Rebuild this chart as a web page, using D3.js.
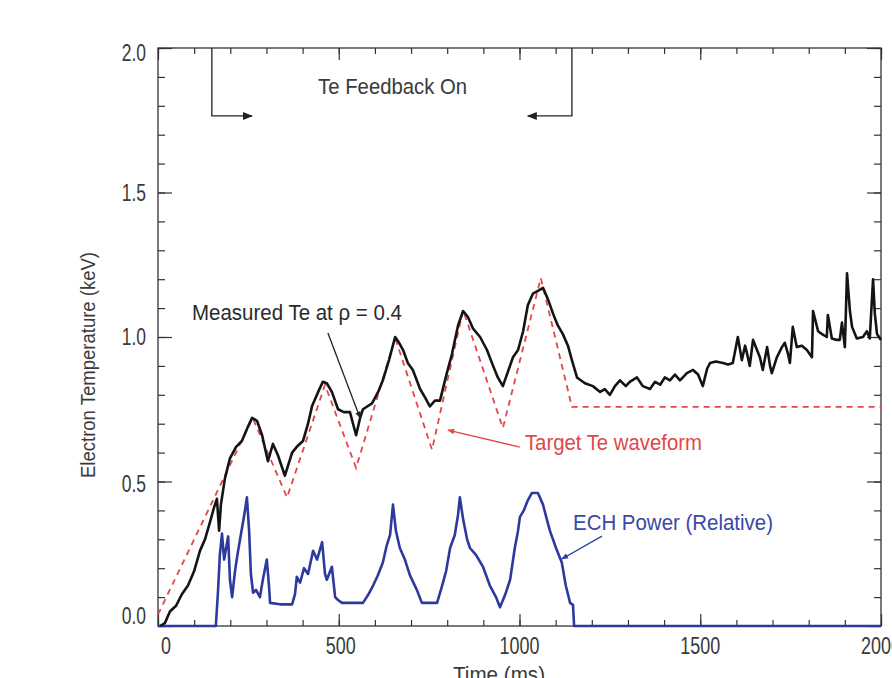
<!DOCTYPE html>
<html><head><meta charset="utf-8">
<script src="https://cdn.jsdelivr.net/npm/d3@7"></script>
<style>body{margin:0;background:#fff}svg{display:block}text{font-family:"Liberation Sans",Arial,sans-serif}</style>
</head><body><svg id="c" width="892" height="678"></svg>
<script>
// ---- data (time in ms, values in keV / relative) ----
const measuredTime = [6,19,33,50,66,83,100,116,130,144,155,163,169,174,185,199,216,232,249,260,274,288,304,318,332,351,371,384,401,415,426,443,456,467,481,498,514,531,548,559,567,592,609,622,639,656,667,678,691,705,725,739,752,766,780,799,813,830,844,857,871,891,910,927,940,954,968,982,996,1010,1023,1037,1051,1065,1079,1093,1106,1120,1134,1145,1159,1181,1203,1223,1236,1250,1264,1278,1294,1305,1325,1341,1361,1375,1389,1402,1416,1430,1444,1463,1480,1494,1507,1519,1527,1543,1563,1577,1590,1604,1615,1624,1629,1637,1646,1657,1665,1673,1685,1693,1698,1712,1726,1734,1743,1748,1756,1767,1781,1795,1809,1812,1826,1837,1850,1853,1864,1878,1886,1892,1900,1906,1914,1920,1933,1950,1961,1969,1978,1983,1989,2000];
const measuredTe = [0.00,0.01,0.05,0.07,0.11,0.14,0.19,0.26,0.30,0.36,0.41,0.44,0.33,0.42,0.51,0.58,0.62,0.64,0.69,0.72,0.71,0.66,0.57,0.63,0.59,0.52,0.60,0.62,0.64,0.70,0.76,0.81,0.845,0.84,0.81,0.75,0.74,0.74,0.66,0.72,0.75,0.77,0.81,0.85,0.92,1.00,0.98,0.955,0.91,0.886,0.82,0.79,0.76,0.78,0.78,0.875,0.94,1.04,1.09,1.07,1.03,1.00,0.955,0.90,0.86,0.83,0.88,0.93,0.955,1.02,1.11,1.15,1.16,1.17,1.13,1.08,1.04,1.01,0.97,0.92,0.86,0.84,0.83,0.81,0.82,0.80,0.83,0.85,0.83,0.845,0.86,0.83,0.82,0.845,0.835,0.86,0.85,0.87,0.85,0.875,0.886,0.87,0.83,0.89,0.91,0.915,0.91,0.905,0.91,1.00,0.92,0.97,0.945,0.90,0.99,0.955,0.93,0.886,0.965,0.90,0.875,0.93,0.965,0.98,0.94,0.91,1.035,0.965,0.97,0.955,0.93,1.09,1.02,1.01,1.00,1.076,0.995,0.99,0.99,1.05,0.965,1.22,1.09,1.035,0.995,1.00,1.02,0.995,1.20,1.08,1.01,0.99];

const targetTime = [0,262,357,462,548,656,758,844,954,1059,1145,2000];
const targetTe   = [0.04,0.72,0.445,0.834,0.547,0.997,0.61,1.093,0.685,1.204,0.758,0.758];

const echTime  = [0,160,166,171,177,183,194,199,205,213,219,227,238,246,252,257,263,271,282,290,301,307,310,337,371,379,384,393,404,415,429,440,454,462,467,481,490,498,509,567,581,595,608,622,633,642,650,658,669,683,697,716,730,772,786,797,808,821,830,835,844,855,863,880,899,918,935,946,960,974,987,996,1001,1012,1023,1034,1051,1065,1076,1084,1101,1117,1128,1140,1148,1151,2000];
const echPower = [0,0,0.12,0.245,0.32,0.23,0.31,0.16,0.10,0.19,0.24,0.30,0.38,0.445,0.33,0.18,0.115,0.125,0.10,0.16,0.23,0.14,0.08,0.075,0.075,0.11,0.17,0.15,0.20,0.18,0.26,0.23,0.29,0.18,0.16,0.205,0.10,0.09,0.08,0.08,0.107,0.14,0.175,0.22,0.28,0.315,0.42,0.33,0.27,0.23,0.175,0.125,0.08,0.08,0.14,0.19,0.27,0.315,0.385,0.445,0.37,0.30,0.27,0.245,0.205,0.14,0.10,0.065,0.107,0.16,0.27,0.33,0.377,0.40,0.435,0.46,0.46,0.42,0.367,0.33,0.27,0.22,0.14,0.08,0.073,0,0];

const xMajorTicks = [0,500,1000,1500,2000];
const xTickLabels = ["0","500","1000","1500","2000"];
const yMajorTicks = [0,0.5,1.0,1.5,2.0];
const yTickLabels = ["0.0","0.5","1.0","1.5","2.0"];
const xMinorTicks = d3.range(0,2001,100);
const yMinorTicks = d3.range(0,21,1).map(d=>d/10);

// annotation anchors in data units
const feedbackOn = 149, feedbackOff = 1145, feedbackLevel = 1.765;
const feedbackArrowOn = 260, feedbackArrowOff = 1023;

// ---- drawing ----
const svg = d3.select("#c");
const x = d3.scaleLinear().domain([0,2000]).range([158,881]);
const y = d3.scaleLinear().domain([0,2]).range([626,48]);
const axisCol = "#333";
const textCol = "#3a3a3a";
const redCol = "#e0474a";
const blueCol = "#2c3a9e";

const defs = svg.append("defs");
function marker(id, col){
  defs.append("marker").attr("id",id).attr("viewBox","0 0 10 10").attr("refX",9).attr("refY",5)
    .attr("markerWidth",7).attr("markerHeight",7).attr("markerUnits","userSpaceOnUse").attr("orient","auto")
    .append("path").attr("d","M0,1 L10,5 L0,9 Z").attr("fill",col);
}
marker("ak","#222"); marker("ar",redCol); marker("ab",blueCol);
defs.append("marker").attr("id","ak2").attr("viewBox","0 0 10 10").attr("refX",9).attr("refY",5)
    .attr("markerWidth",12).attr("markerHeight",10).attr("markerUnits","userSpaceOnUse").attr("orient","auto")
    .append("path").attr("d","M0,1 L10,5 L0,9 Z").attr("fill","#222");

// axes with inward ticks
function styleAxis(g){ g.select(".domain").remove(); g.selectAll("line").attr("stroke",axisCol).attr("stroke-width",1.2); g.selectAll("text").remove(); }
svg.append("g").attr("transform","translate(0,626)").call(d3.axisBottom(x).tickValues(xMinorTicks).tickSize(-6)).call(styleAxis);
svg.append("g").attr("transform","translate(0,626)").call(d3.axisBottom(x).tickValues(xMajorTicks).tickSize(-12)).call(styleAxis);
svg.append("g").attr("transform","translate(0,48)").call(d3.axisTop(x).tickValues(xMinorTicks).tickSize(-6)).call(styleAxis);
svg.append("g").attr("transform","translate(0,48)").call(d3.axisTop(x).tickValues(xMajorTicks).tickSize(-12)).call(styleAxis);
svg.append("g").attr("transform","translate(158,0)").call(d3.axisLeft(y).tickValues(yMinorTicks).tickSize(-7)).call(styleAxis);
svg.append("g").attr("transform","translate(158,0)").call(d3.axisLeft(y).tickValues(yMajorTicks).tickSize(-14)).call(styleAxis);
svg.append("g").attr("transform","translate(881,0)").call(d3.axisRight(y).tickValues(yMinorTicks).tickSize(-7)).call(styleAxis);
svg.append("g").attr("transform","translate(881,0)").call(d3.axisRight(y).tickValues(yMajorTicks).tickSize(-14)).call(styleAxis);
svg.append("rect").attr("x",x(0)).attr("y",y(2)).attr("width",x(2000)-x(0)).attr("height",y(0)-y(2))
  .attr("fill","none").attr("stroke",axisCol).attr("stroke-width",1.3);

function squeeze(sel, f){ sel.each(function(){ const w=this.getComputedTextLength(); d3.select(this).attr("textLength",w*f).attr("lengthAdjust","spacingAndGlyphs"); }); }

// tick labels
const xOff = [8,2,0,0,0];
svg.append("g").selectAll("text").data(xMajorTicks).join("text")
  .attr("x",(d,i)=>x(d)+xOff[i]).attr("y",654).attr("text-anchor","middle")
  .attr("font-size",23).attr("fill",textCol).text((d,i)=>xTickLabels[i]).call(squeeze,0.78);
const yOff = [-10,2,0,0,5];
svg.append("g").selectAll("text").data(yMajorTicks).join("text")
  .attr("x",146).attr("y",(d,i)=>y(d)+yOff[i]+8).attr("text-anchor","end")
  .attr("font-size",23).attr("fill",textCol).text((d,i)=>yTickLabels[i]).call(squeeze,0.76);

// axis titles
svg.append("text").attr("x",453).attr("y",682).attr("font-size",22).attr("fill",textCol)
  .attr("textLength",92).attr("lengthAdjust","spacingAndGlyphs").text("Time (ms)");
svg.append("text").attr("transform","translate(95,365) rotate(-90)").attr("text-anchor","middle")
  .attr("font-size",21).attr("fill",textCol).attr("textLength",226).attr("lengthAdjust","spacingAndGlyphs")
  .text("Electron Temperature (keV)");

// series
const line = d3.line().x(d=>x(d[0])).y(d=>y(d[1]));
svg.append("path").datum(targetTime.map((t,i)=>[t,targetTe[i]])).attr("d",line)
  .attr("fill","none").attr("stroke",redCol).attr("stroke-width",1.8).attr("stroke-dasharray","6,5");
svg.append("path").datum(echTime.map((t,i)=>[t,echPower[i]])).attr("d",line)
  .attr("fill","none").attr("stroke",blueCol).attr("stroke-width",2.6).attr("stroke-linejoin","round");
svg.append("path").datum(measuredTime.map((t,i)=>[t,measuredTe[i]])).attr("d",line)
  .attr("fill","none").attr("stroke","#141414").attr("stroke-width",2.6).attr("stroke-linejoin","round");

// feedback bracket
svg.append("path").attr("d",`M${x(feedbackOn)},${y(2)} V${y(feedbackLevel)} H${x(feedbackArrowOn)}`)
  .attr("fill","none").attr("stroke","#222").attr("stroke-width",1.3).attr("marker-end","url(#ak2)");
svg.append("path").attr("d",`M${x(feedbackOff)},${y(2)} V${y(feedbackLevel)} H${x(feedbackArrowOff)}`)
  .attr("fill","none").attr("stroke","#222").attr("stroke-width",1.3).attr("marker-end","url(#ak2)");
svg.append("text").attr("x",x(649)).attr("y",y(1.84)).attr("text-anchor","middle").attr("font-size",22)
  .attr("fill",textCol).attr("textLength",149).attr("lengthAdjust","spacingAndGlyphs").text("Te Feedback On");

// annotations
svg.append("text").attr("x",x(94)).attr("y",y(1.059)).attr("font-size",22).attr("fill","#2a2a2a")
  .attr("textLength",210).attr("lengthAdjust","spacingAndGlyphs").text("Measured Te at ρ = 0.4");
svg.append("line").attr("x1",x(470)).attr("y1",y(1.014)).attr("x2",x(559)).attr("y2",y(0.72))
  .attr("stroke","#222").attr("stroke-width",1.3).attr("marker-end","url(#ak)");

svg.append("text").attr("x",x(1015)).attr("y",y(0.609)).attr("font-size",22).attr("fill",redCol)
  .attr("textLength",177).attr("lengthAdjust","spacingAndGlyphs").text("Target Te waveform");
svg.append("line").attr("x1",x(1001)).attr("y1",y(0.619)).attr("x2",x(802)).attr("y2",y(0.678))
  .attr("stroke",redCol).attr("stroke-width",1.4).attr("marker-end","url(#ar)");

svg.append("text").attr("x",x(1148)).attr("y",y(0.332)).attr("font-size",22).attr("fill","#3a48a8")
  .attr("textLength",200).attr("lengthAdjust","spacingAndGlyphs").text("ECH Power (Relative)");
svg.append("line").attr("x1",x(1228)).attr("y1",y(0.311)).attr("x2",x(1117)).attr("y2",y(0.232))
  .attr("stroke",blueCol).attr("stroke-width",1.3).attr("marker-end","url(#ab)");
</script></body></html>
